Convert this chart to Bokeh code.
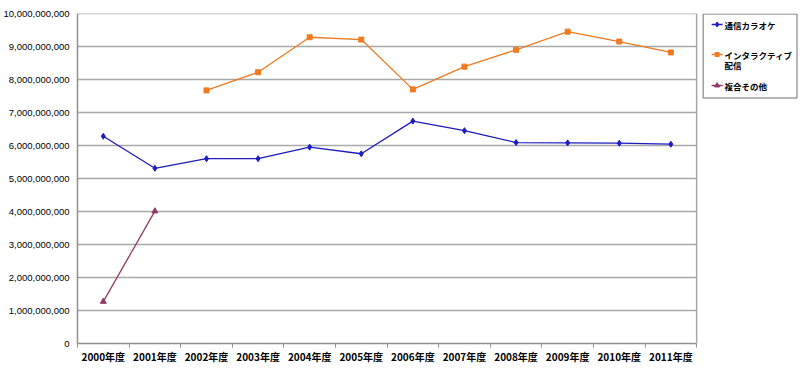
from bokeh.plotting import figure
from bokeh.models import (ColumnDataSource, FixedTicker, NumeralTickFormatter, Range1d, Span)
from bokeh.core.properties import value
from bokeh.embed import file_html
from bokeh.resources import INLINE

years = ["2000年度", "2001年度", "2002年度", "2003年度", "2004年度", "2005年度",
         "2006年度", "2007年度", "2008年度", "2009年度", "2010年度", "2011年度"]
tsushin = [6.28e9, 5.31e9, 5.60e9, 5.60e9, 5.95e9, 5.75e9, 6.74e9, 6.45e9, 6.09e9, 6.08e9, 6.07e9, 6.04e9]
interactive = [None, None, 7.67e9, 8.22e9, 9.28e9, 9.21e9, 7.70e9, 8.39e9, 8.90e9, 9.45e9, 9.15e9, 8.82e9]
fukugo = [1.27e9, 4.01e9]
y_ticks = [0, 1e9, 2e9, 3e9, 4e9, 5e9, 6e9, 7e9, 8e9, 9e9, 10e9]
series_names = ["通信カラオケ", "インタラクティブ\n配信", "複合その他"]

FONT = "Noto Sans CJK JP"
n = len(years)
xc = [i + 0.5 for i in range(n)]

W, H = 800, 370
LEFT, RIGHT_PLOT, RIGHT_FRAME = 76, 696, 800
TOP, BOTTOM = 13, 343
Y_MAX = 10e9
x_end = n * (RIGHT_FRAME - LEFT) / (RIGHT_PLOT - LEFT)


def px2x(px):
    return (px - LEFT) * n / (RIGHT_PLOT - LEFT)


def py2y(py):
    return (BOTTOM - py) / (BOTTOM - TOP) * Y_MAX


p = figure(width=W, height=H, output_backend="svg", toolbar_location=None,
           x_range=Range1d(0, x_end), y_range=Range1d(0, Y_MAX),
           min_border_left=LEFT, min_border_top=TOP, min_border_bottom=H - BOTTOM,
           min_border_right=W - RIGHT_FRAME)
p.outline_line_color = None
p.xgrid.grid_line_color = None
p.ygrid.grid_line_color = None

grid_color = "#a8a8a8"
p.segment(x0=[0] * (len(y_ticks) - 1), x1=[n] * (len(y_ticks) - 1),
          y0=y_ticks[1:], y1=y_ticks[1:], line_color=grid_color, line_width=1.5)
p.add_layout(Span(location=n, dimension="height", line_color=grid_color, line_width=1.5))

p.xaxis.bounds = (0, n)
p.xaxis.ticker = FixedTicker(ticks=xc, minor_ticks=list(range(n + 1)))
p.xaxis.major_label_overrides = {x: y for x, y in zip(xc, years)}
p.xaxis.major_tick_line_color = None
p.xaxis.major_tick_in = 0
p.xaxis.major_tick_out = 0
p.xaxis.minor_tick_line_color = "#909090"
p.xaxis.minor_tick_in = 0
p.xaxis.minor_tick_out = 4
p.xaxis.axis_line_color = "#909090"
p.xaxis.axis_line_width = 1.5
p.xaxis.major_label_text_font = FONT
p.xaxis.major_label_text_font_size = "10px"
p.xaxis.major_label_text_font_style = "bold"
p.xaxis.major_label_text_color = "#000000"
p.xaxis.major_label_standoff = 1

p.yaxis.ticker = FixedTicker(ticks=y_ticks)
p.yaxis.formatter = NumeralTickFormatter(format="0,0")
p.yaxis.major_tick_line_color = None
p.yaxis.major_tick_in = 0
p.yaxis.major_tick_out = 0
p.yaxis.minor_tick_line_color = None
p.yaxis.axis_line_color = "#909090"
p.yaxis.axis_line_width = 1.5
p.yaxis.major_label_text_font = "Liberation Sans"
p.yaxis.major_label_text_font_size = "9.5px"
p.yaxis.major_label_text_color = "#000000"
p.yaxis.major_label_standoff = 8

blue = "#1c1cc0"
orange = "#ee7a22"
purple = "#8e3a66"
colors = [blue, orange, purple]
markers = ["diamond", "square", "triangle"]
msizes = [6, 5, 6]

s1 = ColumnDataSource(dict(x=xc, y=tsushin))
p.line("x", "y", source=s1, color=blue, line_width=1.3)
p.scatter("x", "y", source=s1, marker="diamond", size=6, color=blue)

ix = [x for x, v in zip(xc, interactive) if v is not None]
iv = [v for v in interactive if v is not None]
s2 = ColumnDataSource(dict(x=ix, y=iv))
p.line("x", "y", source=s2, color=orange, line_width=1.3)
p.scatter("x", "y", source=s2, marker="square", size=5, color=orange)

s3 = ColumnDataSource(dict(x=xc[:len(fukugo)], y=fukugo))
p.line("x", "y", source=s3, color=purple, line_width=1.3)
p.scatter("x", "y", source=s3, marker="triangle", size=6, color=purple)

# legend box (outside the plot area, drawn in the extended frame)
p.quad(left=px2x(702.5), right=px2x(796.5), top=py2y(13.5), bottom=py2y(97.5),
       fill_color="white", line_color="#707070", line_width=1)
item_py = [24, 54, 85]
for name, c, mk, ms, py in zip(series_names, colors, markers, msizes, item_py):
    p.segment(x0=[px2x(711)], x1=[px2x(722)], y0=[py2y(py)], y1=[py2y(py)],
              line_color=c, line_width=1.3)
    p.scatter(x=[px2x(716.5)], y=[py2y(py)], marker=mk, size=ms - 1, color=c)
    p.text(x=[px2x(724)], y=[py2y(py - 6)], text=[name],
           text_font=value(FONT), text_font_size="8.5px", text_font_style="bold",
           text_color="#000000", text_baseline="top", text_align="left",
           text_line_height=0.85)

open("out.html", "w").write(file_html(p, INLINE))
